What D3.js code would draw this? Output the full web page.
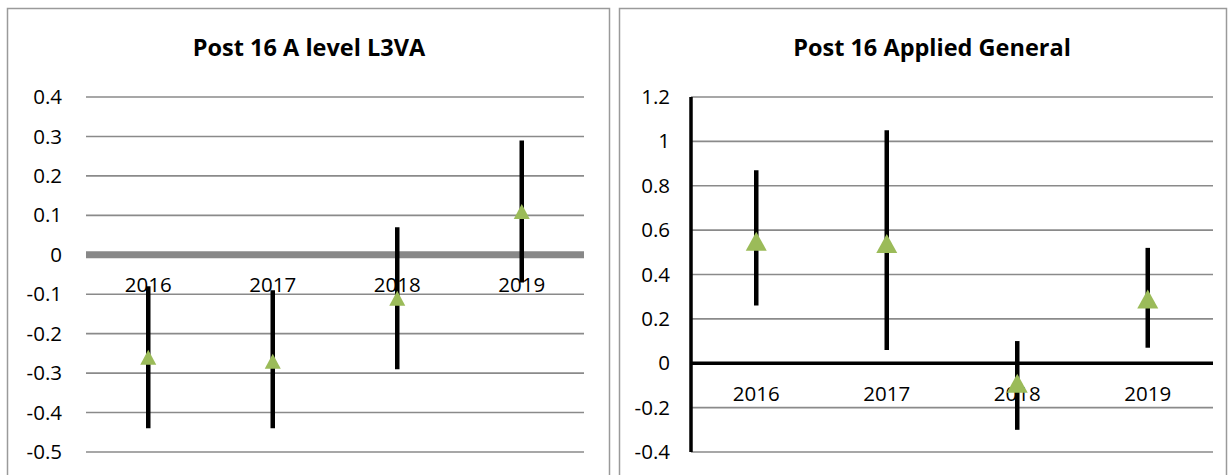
<!DOCTYPE html>
<html>
<head>
<meta charset="utf-8">
<script src="https://cdn.jsdelivr.net/npm/d3@7"></script>
<style>
  body { margin: 0; background: #fff; }
  svg { display: block; font-family: "Open Sans", sans-serif; }
</style>
</head>
<body>
<div id="chart"></div>
<script>
// categories
var years = ["2016", "2017", "2018", "2019"];

// Post 16 A level L3VA: score and confidence interval
var aLevelScore = [-0.26, -0.27, -0.11, 0.11];
var aLevelUpper = [-0.08, -0.09, 0.07, 0.29];
var aLevelLower = [-0.44, -0.44, -0.29, -0.07];
var aLevelTicks = [0.4, 0.3, 0.2, 0.1, 0, -0.1, -0.2, -0.3, -0.4, -0.5];

// Post 16 Applied General
var appliedScore = [0.55, 0.54, -0.09, 0.29];
var appliedUpper = [0.87, 1.05, 0.10, 0.52];
var appliedLower = [0.26, 0.06, -0.30, 0.07];
var appliedTicks = [1.2, 1, 0.8, 0.6, 0.4, 0.2, 0, -0.2, -0.4];

var svgWidth = 1231;
var svgHeight = 475;

var svg = d3.select("#chart")
    .append("svg")
    .attr("width", svgWidth)
    .attr("height", svgHeight);

var fmt = function(d) { return String(+d.toFixed(1)); };

// triangle centred on its bounding box, like the spreadsheet markers
function triangle(w, h) {
    var p = d3.path();
    p.moveTo(0, -h / 2);
    p.lineTo(w / 2, h / 2);
    p.lineTo(-w / 2, h / 2);
    p.closePath();
    return p.toString();
}

function drawPanel(p) {
    var g = svg.append("g");

    // chart frame (bottom runs off the page)
    g.append("rect")
        .attr("x", p.frame[0] + 0.5)
        .attr("y", 8.5)
        .attr("width", p.frame[1] - p.frame[0])
        .attr("height", 500)
        .attr("fill", "#fff")
        .attr("stroke", "#9a9a9a")
        .attr("stroke-width", 1.5);

    g.append("text")
        .attr("x", p.titleX)
        .attr("y", 48)
        .attr("dy", "0.35em")
        .attr("text-anchor", "middle")
        .attr("font-size", 23.5)
        .attr("font-weight", "bold")
        .attr("fill", "#000")
        .text(p.title);

    var x = d3.scaleBand()
        .domain(years)
        .range([p.left, p.right]);

    var y = d3.scaleLinear()
        .domain([d3.min(p.ticks), d3.max(p.ticks)])
        .range([452, 97]);

    // gridlines
    g.append("g")
        .selectAll("line")
        .data(p.ticks)
        .enter()
        .append("line")
        .attr("x1", p.left)
        .attr("x2", p.right)
        .attr("y1", d => y(d))
        .attr("y2", d => y(d))
        .attr("stroke", "#8a8a8a")
        .attr("stroke-width", 1.6);

    // y axis labels
    var leftAxis = d3.axisLeft(y)
        .tickValues(p.ticks)
        .tickSize(0)
        .tickPadding(p.pad)
        .tickFormat(fmt);
    var ax = g.append("g")
        .attr("transform", `translate(${p.left}, 0)`)
        .call(leftAxis);
    ax.select(".domain").remove();
    ax.selectAll("text")
        .attr("font-family", "'Open Sans', sans-serif")
        .attr("font-size", 20.5)
        .attr("fill", "#000");

    // zero line
    g.append("line")
        .attr("x1", p.left)
        .attr("x2", p.right)
        .attr("y1", y(0))
        .attr("y2", y(0))
        .attr("stroke", p.zeroColor)
        .attr("stroke-width", p.zeroWidth);

    if (p.showAxisLine) {
        g.append("line")
            .attr("x1", p.left)
            .attr("x2", p.left)
            .attr("y1", y(d3.max(p.ticks)))
            .attr("y2", y(d3.min(p.ticks)))
            .attr("stroke", "#000")
            .attr("stroke-width", 3.5);
    }

    // category labels sit just under the zero line
    g.append("g")
        .selectAll("text")
        .data(years)
        .enter()
        .append("text")
        .attr("x", d => x(d) + x.bandwidth() / 2)
        .attr("y", y(0) + 30.5)
        .attr("dy", "0.35em")
        .attr("text-anchor", "middle")
        .attr("font-size", 20.5)
        .attr("fill", "#000")
        .text(d => d);

    // error bars
    g.append("g")
        .selectAll("line")
        .data(years)
        .enter()
        .append("line")
        .attr("x1", d => x(d) + x.bandwidth() / 2)
        .attr("x2", d => x(d) + x.bandwidth() / 2)
        .attr("y1", (d, i) => y(p.upper[i]))
        .attr("y2", (d, i) => y(p.lower[i]))
        .attr("stroke", "#000")
        .attr("stroke-width", 4.5);

    // triangle markers
    g.append("g")
        .selectAll("path")
        .data(years)
        .enter()
        .append("path")
        .attr("d", triangle(p.marker[0], p.marker[1]))
        .attr("transform", (d, i) => `translate(${x(d) + x.bandwidth() / 2}, ${y(p.score[i])})`)
        .attr("fill", "#9bbb59");
}

drawPanel({
    title: "Post 16 A level L3VA",
    frame: [7, 609],
    titleX: 309,
    left: 86,
    right: 584,
    pad: 24,
    ticks: aLevelTicks,
    score: aLevelScore,
    upper: aLevelUpper,
    lower: aLevelLower,
    zeroColor: "#888888",
    zeroWidth: 7,
    showAxisLine: false,
    marker: [16, 15]
});

drawPanel({
    title: "Post 16 Applied General",
    frame: [619, 1226],
    titleX: 932,
    left: 691,
    right: 1213,
    pad: 21,
    ticks: appliedTicks,
    score: appliedScore,
    upper: appliedUpper,
    lower: appliedLower,
    zeroColor: "#000",
    zeroWidth: 3.5,
    showAxisLine: true,
    marker: [21, 19]
});
</script>
</body>
</html>
